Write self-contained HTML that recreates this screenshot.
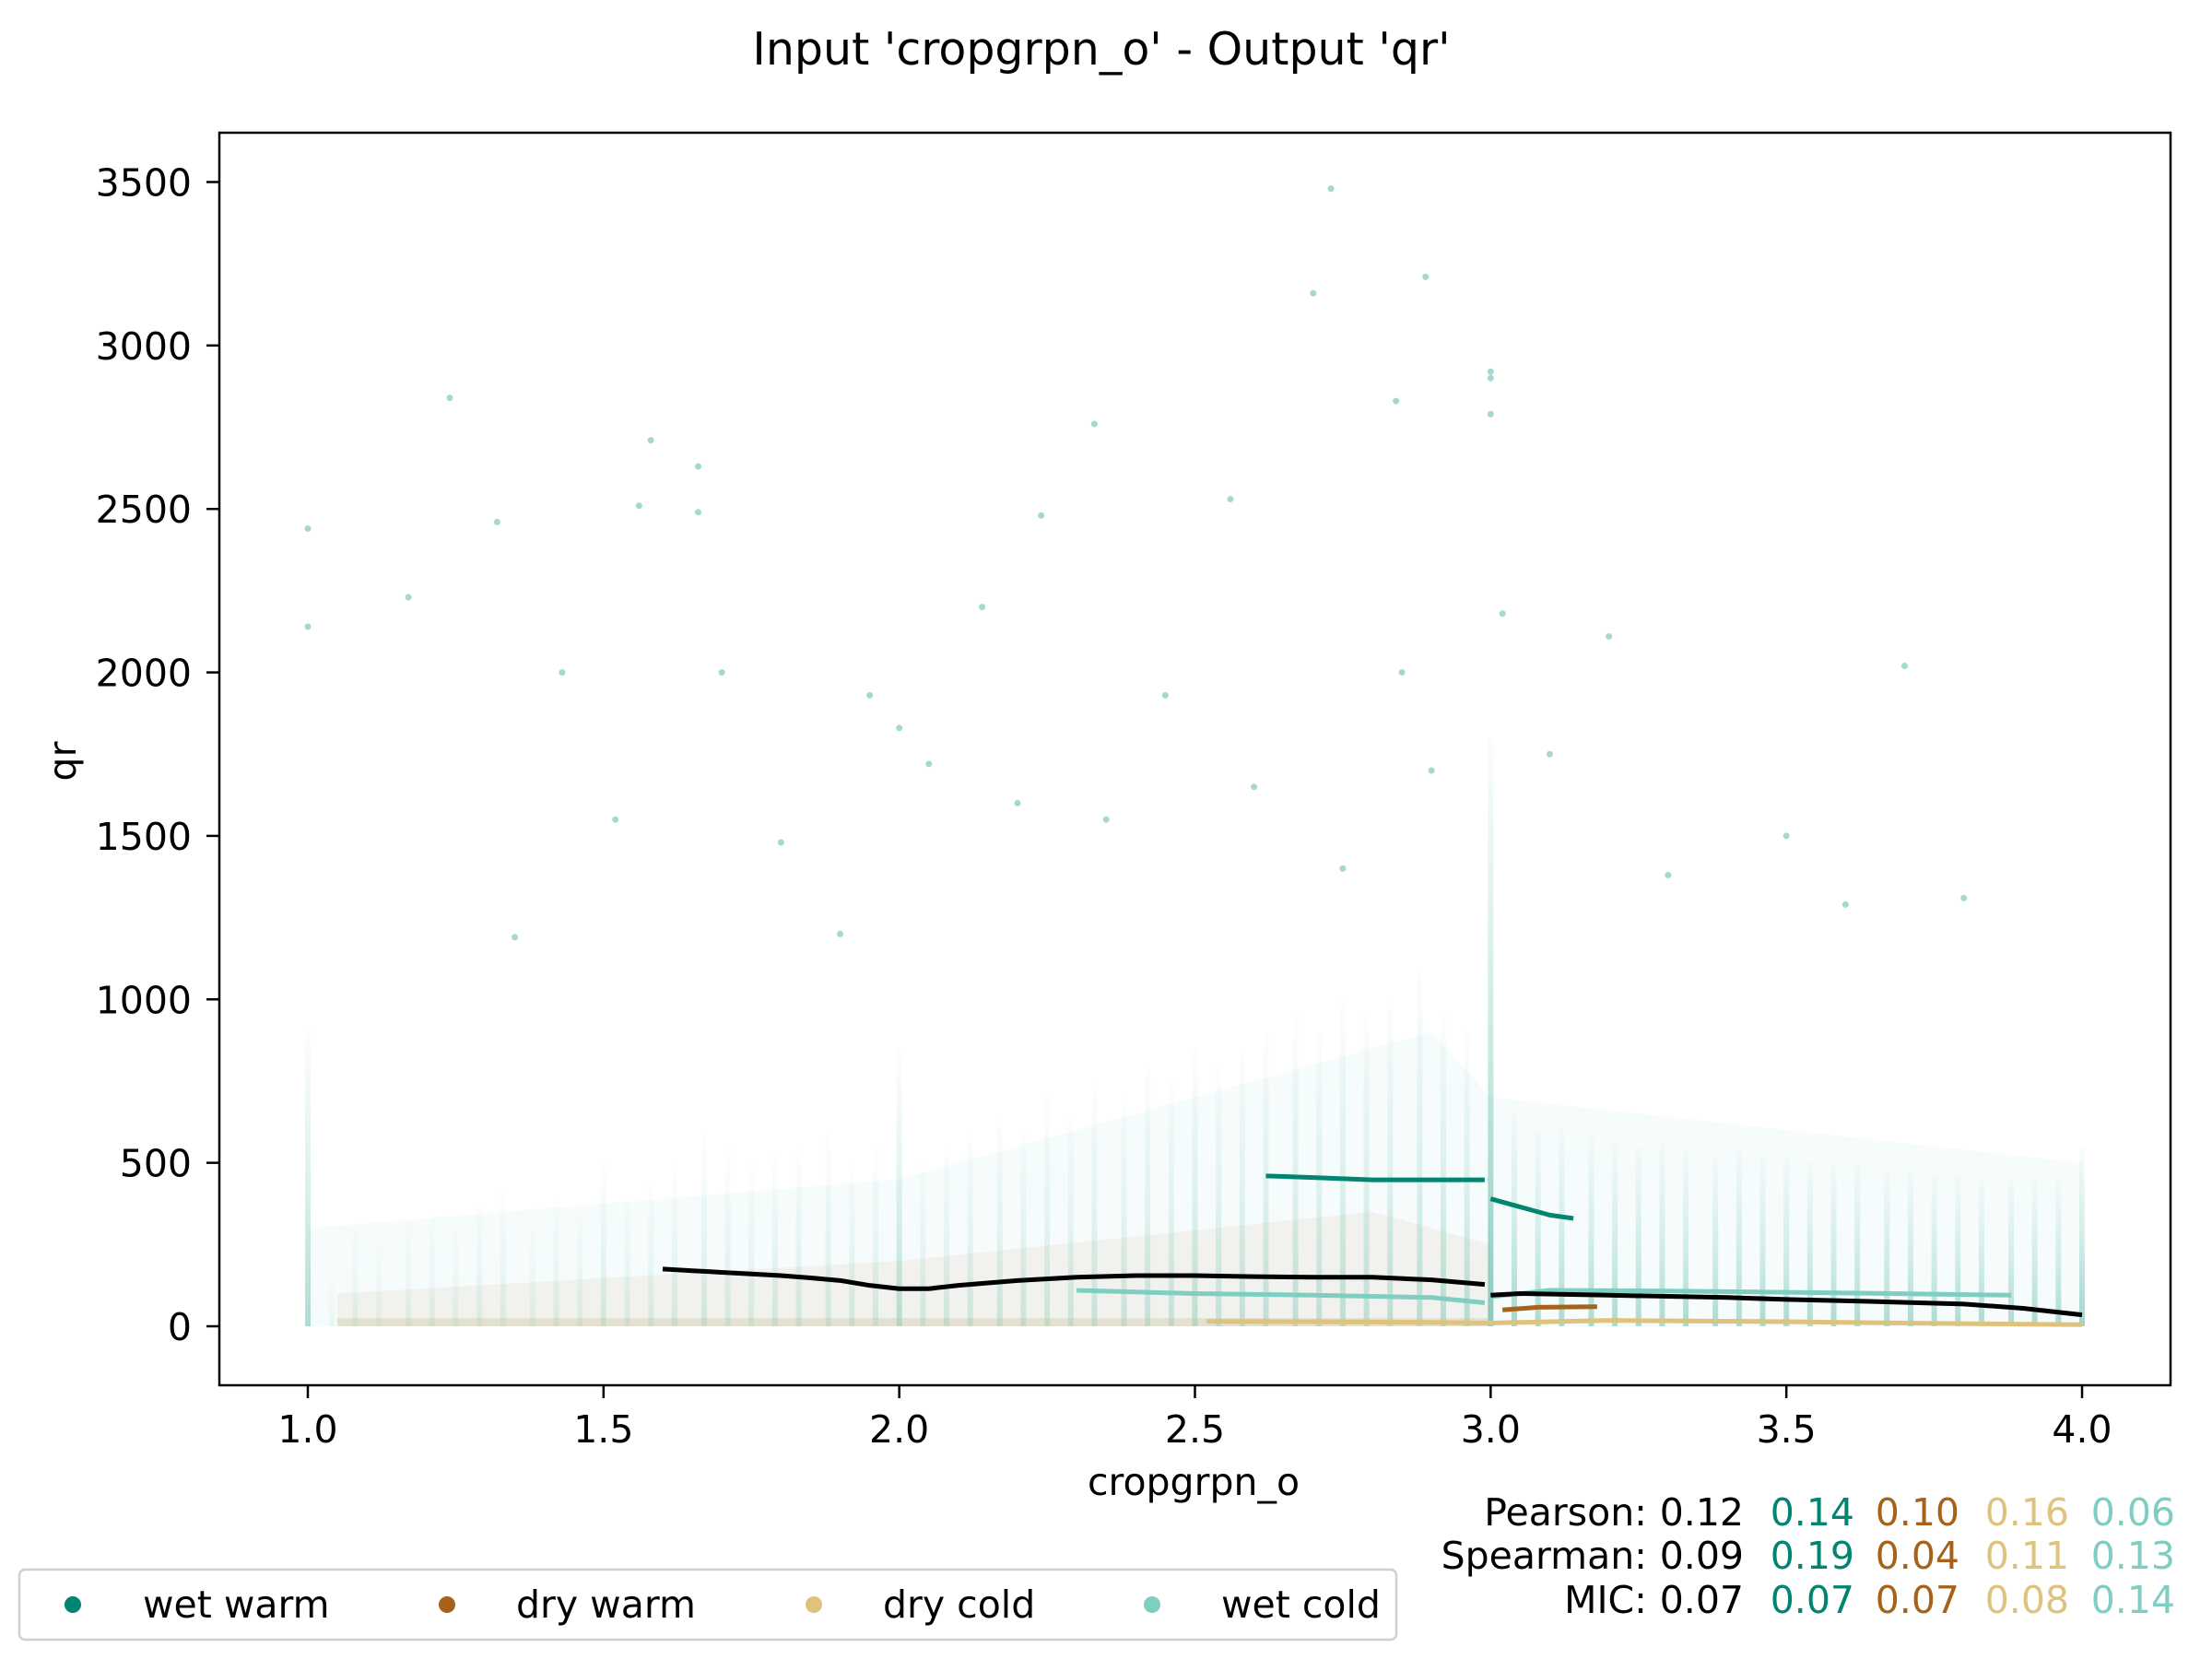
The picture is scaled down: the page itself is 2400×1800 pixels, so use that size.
<!DOCTYPE html>
<html><head><meta charset="utf-8"><style>
html,body{margin:0;padding:0;background:#fff}
svg{display:block;font-family:"DejaVu Sans","Liberation Sans",sans-serif}
</style></head><body>
<svg id="chart" width="2400" height="1800" viewBox="0 0 2400 1800">
<rect width="2400" height="1800" fill="#fff"/>
<text x="1195" y="70" font-size="49" text-anchor="middle">Input 'cropgrpn_o' - Output 'qr'</text>
<g id="scatter"></g>
<g id="lines"></g>
<rect x="238" y="144" width="2117" height="1359" fill="none" stroke="#000" stroke-width="2.5"/>
<g id="xticks"></g>
<g id="yticks"></g>
<text x="1295" y="1622" font-size="41" text-anchor="middle">cropgrpn_o</text>
<text x="0" y="0" font-size="41" text-anchor="middle" transform="translate(82,826) rotate(-90)">qr</text>
<g font-size="41">
<text x="1787" y="1655" text-anchor="end">Pearson:</text>
<text x="1787" y="1702" text-anchor="end">Spearman:</text>
<text x="1787" y="1750" text-anchor="end">MIC:</text>
<g text-anchor="end">
<text x="1892" y="1655" fill="#000">0.12</text>
<text x="2012" y="1655" fill="#018571">0.14</text>
<text x="2126" y="1655" fill="#a6611a">0.10</text>
<text x="2245" y="1655" fill="#dfc27d">0.16</text>
<text x="2360" y="1655" fill="#80cdc1">0.06</text>
<text x="1892" y="1702" fill="#000">0.09</text>
<text x="2012" y="1702" fill="#018571">0.19</text>
<text x="2126" y="1702" fill="#a6611a">0.04</text>
<text x="2245" y="1702" fill="#dfc27d">0.11</text>
<text x="2360" y="1702" fill="#80cdc1">0.13</text>
<text x="1892" y="1750" fill="#000">0.07</text>
<text x="2012" y="1750" fill="#018571">0.07</text>
<text x="2126" y="1750" fill="#a6611a">0.07</text>
<text x="2245" y="1750" fill="#dfc27d">0.08</text>
<text x="2360" y="1750" fill="#80cdc1">0.14</text>
</g></g>
<g>
<rect x="21" y="1703" width="1494" height="76" rx="6" fill="#fff" stroke="#d0d0d0" stroke-width="2.5"/>
<g font-size="41">
<g><circle cx="79" cy="1741" r="9" fill="#018571"/><text x="155" y="1755">wet warm</text></g>
<g><circle cx="485" cy="1741" r="9" fill="#a6611a"/><text x="560" y="1755">dry warm</text></g>
<g><circle cx="883" cy="1741" r="9" fill="#dfc27d"/><text x="958" y="1755">dry cold</text></g>
<g><circle cx="1250" cy="1741" r="9" fill="#80cdc1"/><text x="1325" y="1755">wet cold</text></g>
</g></g>
</svg>
<script>
const xTicks=[1.0,1.5,2.0,2.5,3.0,3.5,4.0];
const xTickLabels=["1.0","1.5","2.0","2.5","3.0","3.5","4.0"];
const yTicks=[0,500,1000,1500,2000,2500,3000,3500];
const yTickLabels=["0","500","1000","1500","2000","2500","3000","3500"];
// scatter column clouds: x value, typical top value, density
const colX=[1.0,1.04,1.08,1.12,1.17,1.21,1.25,1.29,1.33,1.38,1.42,1.46,1.5,1.54,1.58,1.62,1.67,1.71,1.75,1.79,1.83,1.88,1.92,1.96,2.0,2.04,2.08,2.12,2.17,2.21,2.25,2.29,2.33,2.38,2.42,2.46,2.5,2.54,2.58,2.62,2.67,2.71,2.75,2.79,2.83,2.88,2.92,2.96,3.0,3.04,3.08,3.12,3.17,3.21,3.25,3.29,3.33,3.38,3.42,3.46,3.5,3.54,3.58,3.62,3.67,3.71,3.75,3.79,3.83,3.88,3.92,3.96,4.0];
const colTop=[900,150,300,250,320,350,300,380,420,300,400,350,500,400,450,500,600,550,500,520,550,600,500,550,850,500,550,600,650,600,700,650,750,700,800,750,850,800,850,900,950,900,1000,950,1000,1100,950,900,1800,650,600,600,580,560,550,560,540,520,540,520,520,500,500,500,480,480,460,460,450,450,450,450,550];
const colDense=[0.55,0.1,0.15,0.12,0.15,0.15,0.15,0.18,0.18,0.15,0.18,0.18,0.25,0.2,0.2,0.22,0.25,0.22,0.22,0.25,0.25,0.25,0.25,0.25,0.45,0.25,0.28,0.28,0.3,0.3,0.3,0.3,0.32,0.32,0.34,0.34,0.4,0.36,0.36,0.38,0.38,0.38,0.4,0.4,0.4,0.42,0.45,0.45,0.8,0.6,0.55,0.55,0.55,0.55,0.55,0.55,0.55,0.55,0.55,0.55,0.55,0.55,0.55,0.55,0.55,0.55,0.55,0.55,0.55,0.55,0.55,0.55,0.65];
// outlier points
const outX=[1.0,1.0,1.24,1.32,1.17,1.56,1.58,1.66,1.66,1.43,2.14,1.7,2.73,2.7,2.89,2.84,2.33,2.56,3.0,3.0,3.0,3.02,3.2,2.24,2.0,1.95,3.5,3.7,2.45,2.85,3.1,1.8,2.2,2.6,1.35,1.9,2.35,2.75,3.3,3.6,3.8,1.52,2.05,2.9];
const outY=[2440,2140,2840,2460,2230,2510,2710,2630,2490,2000,2200,2000,3480,3160,3210,2830,2760,2530,2920,2900,2790,2180,2110,2480,1830,1930,1500,2020,1930,2000,1750,1480,1600,1650,1190,1200,1550,1400,1380,1290,1310,1550,1720,1700];
// trend lines
const allX=[1.6,1.65,1.7,1.75,1.8,1.85,1.9,1.95,2.0,2.05,2.1,2.2,2.3,2.4,2.5,2.6,2.7,2.8,2.9,2.99,3.0,3.05,3.2,3.4,3.5,3.6,3.8,3.9,4.0];
const allY=[175,170,165,160,155,148,140,125,115,115,125,140,150,155,155,152,150,150,142,128,95,100,95,88,82,78,68,55,35];
const wwX=[2.62,2.7,2.8,2.9,2.99,3.0,3.05,3.1,3.14];
const wwY=[460,455,448,448,448,390,365,340,330];
const dwX=[3.02,3.08,3.18];
const dwY=[50,58,60];
const dcX=[2.52,2.7,2.9,3.0,3.2,3.5,3.8,4.0];
const dcY=[15,14,12,10,18,14,8,5];
const wcX=[2.3,2.5,2.7,2.9,2.99,3.0,3.1,3.3,3.6,3.88];
const wcY=[110,100,95,88,72,90,110,108,102,95];

const X=v=>334+(v-1)*641.67;
const Y=v=>1439-v*(1241.5/3500);
const NS="http://www.w3.org/2000/svg";
function mk(tag,attrs,parent){const e=document.createElementNS(NS,tag);for(const k in attrs)e.setAttribute(k,attrs[k]);parent.appendChild(e);return e;}

const defs=mk('defs',{},document.getElementById('chart'));
const lg=mk('linearGradient',{id:'colgrad',x1:'0',y1:'1',x2:'0',y2:'0'},defs);
mk('stop',{offset:'0','stop-color':'#5fb8a8','stop-opacity':'0.9'},lg);
mk('stop',{offset:'0.5','stop-color':'#80cdc1','stop-opacity':'0.5'},lg);
mk('stop',{offset:'1','stop-color':'#80cdc1','stop-opacity':'0.05'},lg);

const sc=document.getElementById('scatter');
const cloud=mk('path',{d:`M${X(1)} ${Y(0)} L${X(1)} ${Y(300)} L${X(2)} ${Y(450)} L${X(2.9)} ${Y(900)} L${X(3)} ${Y(700)} L${X(4)} ${Y(500)} L${X(4)} ${Y(0)} Z`,fill:'#80cdc1','fill-opacity':'0.07'},sc);


const warm=mk('path',{d:`M${X(1.05)} ${Y(0)} L${X(1.05)} ${Y(100)} L${X(2)} ${Y(200)} L${X(2.8)} ${Y(350)} L${X(3)} ${Y(250)} L${X(3)} ${Y(0)} Z`,fill:'#a6611a','fill-opacity':'0.06'},sc);


for(let i=0;i<colX.length;i++){
  const r=mk('rect',{x:X(colX[i])-3,y:Y(colTop[i]),width:6,height:Y(0)-Y(colTop[i]),fill:'url(#colgrad)',opacity:colDense[i]},sc);
  
  
}
const band=mk('rect',{x:X(1.05),y:Y(25),width:X(3)-X(1.05),height:Y(0)-Y(25),fill:'#c9c49a','fill-opacity':'0.35'},sc);


for(let i=0;i<outX.length;i++){
  const c=mk('circle',{cx:X(outX[i]),cy:Y(outY[i]),r:3.5,fill:'#5fb8a8','fill-opacity':'0.55'},sc);
  
  
}

const ln=document.getElementById('lines');
function drawLine(xs,ys,color,name,breakAt){
  let segs=[[]];
  for(let i=0;i<xs.length;i++){
    if(breakAt!==undefined && i>0 && xs[i-1]<breakAt && xs[i]>=breakAt) segs.push([]);
    segs[segs.length-1].push(X(xs[i])+','+Y(ys[i]));
  }
  segs.forEach(s=>{
    const p=mk('polyline',{points:s.join(' '),fill:'none',stroke:color,'stroke-width':5,'stroke-linejoin':'round'},ln);
    
    
  });
}
drawLine(wcX,wcY,'#80cdc1','trend-wet-cold',3.0);
drawLine(dcX,dcY,'#dfc27d','trend-dry-cold');
drawLine(dwX,dwY,'#a6611a','trend-dry-warm');
drawLine(allX,allY,'#000','trend-all',3.0);
drawLine(wwX,wwY,'#018571','trend-wet-warm',3.0);

const xt=document.getElementById('xticks');
xTicks.forEach((v,i)=>{
  const l=mk('line',{x1:X(v),x2:X(v),y1:1503,y2:1517,stroke:'#000','stroke-width':2.5},xt);
  
  
  const t=mk('text',{x:X(v),y:1565,'font-size':41,'text-anchor':'middle'},xt);
  t.textContent=xTickLabels[i];
  
  
});
const yt=document.getElementById('yticks');
yTicks.forEach((v,i)=>{
  const l=mk('line',{x1:224,x2:238,y1:Y(v),y2:Y(v),stroke:'#000','stroke-width':2.5},yt);
  
  
  const t=mk('text',{x:208,y:Y(v)+15,'font-size':41,'text-anchor':'end'},yt);
  t.textContent=yTickLabels[i];
  
  
});
</script>
</body></html>
